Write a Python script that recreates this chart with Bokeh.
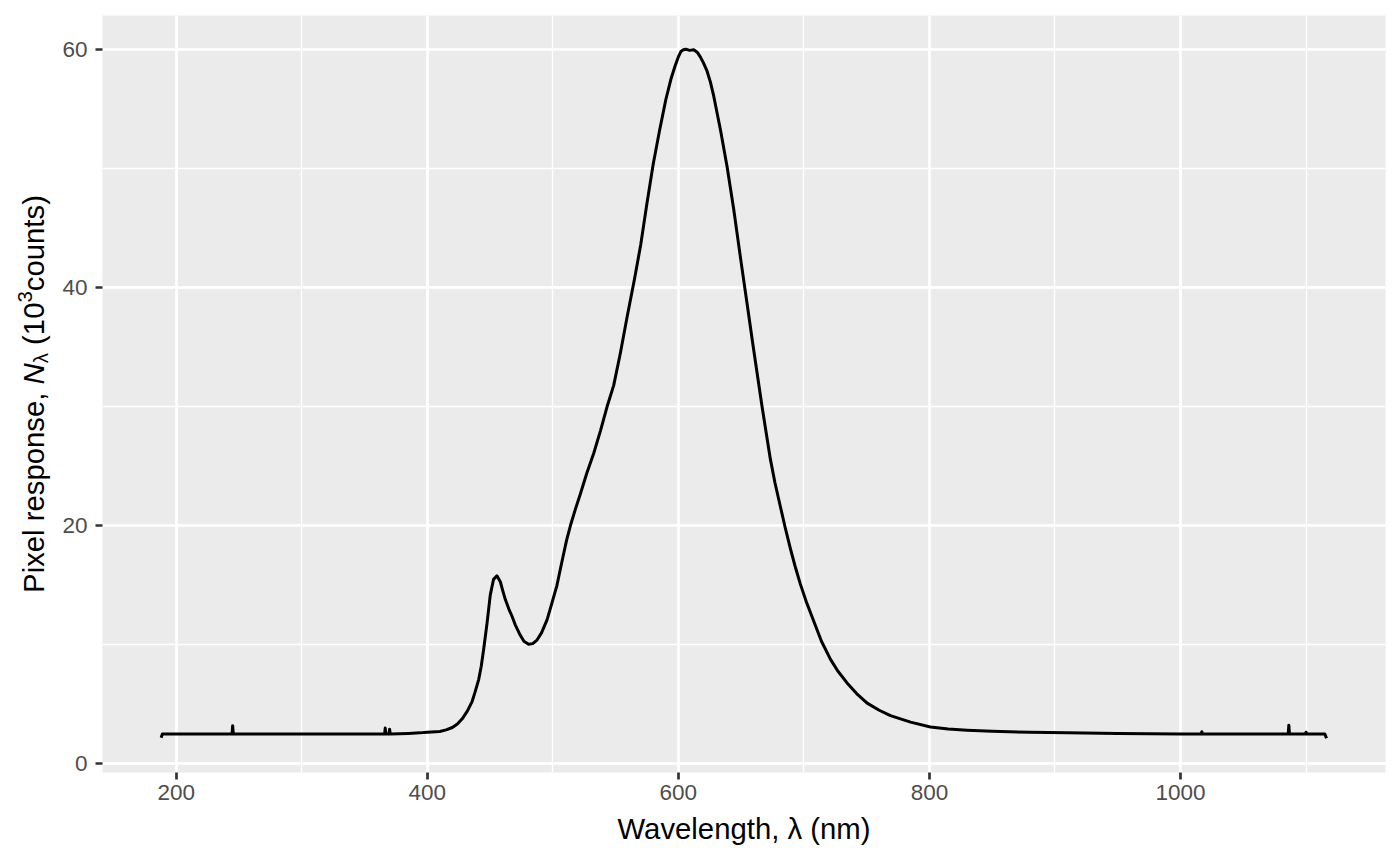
import math
from bokeh.plotting import figure
from bokeh.layouts import row
from bokeh.models import Range1d, SingleIntervalTicker
from bokeh.core.properties import value
from bokeh.embed import file_html
from bokeh.resources import INLINE

# ---- data ----
wavelength_nm = [188, 189, 195, 220, 244.5, 245, 245.5, 270, 300, 330, 360, 366, 366.5, 367,
                 369.5, 370, 370.5, 385, 394, 400, 410, 415, 420, 424, 428, 432, 435.6, 438,
                 441, 443, 444.9, 447.6, 450.2, 452.8, 455.5, 458.2, 460, 462.2, 465, 467.5,
                 470, 474.1, 477, 480.7, 484, 487.4, 491, 495.4, 499, 503.3, 507.3, 511, 514,
                 518, 522, 527, 532.6, 538, 543.2, 548.5, 553.8, 559.1, 565, 570, 575, 580,
                 585, 590, 594, 597.6, 600, 602, 604, 606, 609, 612.3, 615, 617.5,
                 620, 622.9, 625.5, 628.2, 633.5, 638.8, 644.1, 649.4, 654.7, 660, 666.7, 673.3,
                 677, 681.3, 685, 689.2, 693, 697.2, 702, 707.8, 714, 721.1, 727, 734.4, 742,
                 750.4, 760, 769, 785, 800.8, 815, 830, 850, 880, 910, 950, 1000, 1016.5, 1017,
                 1017.5, 1050, 1085.8, 1086.3, 1086.8, 1099.5, 1100, 1100.5, 1115, 1116.3]
counts_k = [2.2, 2.5, 2.5, 2.5, 2.5, 3.2, 2.5, 2.5, 2.5, 2.5, 2.5, 2.5, 3.0, 2.5,
            2.5, 2.9, 2.5, 2.55, 2.6, 2.65, 2.72, 2.85, 3.05, 3.35, 3.8, 4.45, 5.2, 6.0,
            7.1, 8.2, 9.6, 11.8, 14.2, 15.5, 15.8, 15.3, 14.6, 13.8, 13.0, 12.4,
            11.7, 10.8, 10.3, 10.05, 10.1, 10.4, 11.0, 12.1, 13.4, 15.0, 17.0, 18.8, 20.0,
            21.4, 22.7, 24.4, 26.1, 28.0, 30.0, 31.8, 34.5, 37.5, 40.7, 43.6, 47.1, 50.4,
            53.2, 55.8, 57.5, 58.7, 59.4, 59.85, 60.0, 60.05, 59.95, 60.0, 59.8, 59.4,
            58.9, 58.2, 57.3, 56.1, 53.3, 50.2, 46.6, 42.6, 38.7, 34.8, 30.0, 25.6,
            23.6, 21.6, 19.9, 18.1, 16.6, 15.1, 13.6, 12.0, 10.3, 8.8, 7.8, 6.8, 5.9,
            5.1, 4.5, 4.05, 3.5, 3.1, 2.92, 2.82, 2.73, 2.65, 2.6, 2.55, 2.5, 2.5, 2.7,
            2.5, 2.5, 2.5, 3.25, 2.5, 2.5, 2.65, 2.5, 2.5, 2.15]

x_label = "Wavelength, λ (nm)"
y_label_parts = ["Pixel response,", "N", "λ", "(10", "3", "counts)"]

# ---- layout ----
FONT = "Liberation Sans"
TITLE_PX = 29.3
TICK_PX = 22.5
X0, X1 = 141.3, 1163.3
Y0, Y1 = -0.73, 62.88
FW, FH = 1283, 757
TOP, BOTTOM = 15, 94
LW = 58                      # width of the strip that carries the y title
H = TOP + FH + BOTTOM

p = figure(frame_width=FW, frame_height=FH,
           min_border_left=102 - LW, min_border_right=15, min_border_top=TOP,
           min_border_bottom=BOTTOM,
           x_range=Range1d(X0, X1), y_range=Range1d(Y0, Y1),
           output_backend="svg", toolbar_location=None)
p.background_fill_color = "#EBEBEB"
p.border_fill_color = "white"
p.outline_line_color = None

p.xaxis.ticker = SingleIntervalTicker(interval=200, num_minor_ticks=2)
p.yaxis.ticker = SingleIntervalTicker(interval=20, num_minor_ticks=2)

for g in (p.xgrid[0], p.ygrid[0]):
    g.grid_line_color = "white"
    g.grid_line_width = 2.6
    g.minor_grid_line_color = "white"
    g.minor_grid_line_width = 1.3

for ax in (p.xaxis[0], p.yaxis[0]):
    ax.axis_line_color = None
    ax.major_tick_line_color = "#333333"
    ax.major_tick_line_width = 2.7
    ax.major_tick_out = 7
    ax.major_tick_in = 0
    ax.minor_tick_line_color = None
    ax.major_label_text_font = FONT
    ax.major_label_text_font_size = f"{TICK_PX}px"
    ax.major_label_text_color = "#4D4D4D"
    ax.axis_label_text_font = FONT
    ax.axis_label_text_font_size = f"{TITLE_PX}px"
    ax.axis_label_text_font_style = "normal"
    ax.axis_label_text_color = "black"

p.xaxis.major_label_standoff = 5
p.yaxis.major_label_standoff = 8
p.xaxis.axis_label = x_label
p.xaxis.axis_label_standoff = 9

p.line(wavelength_nm, counts_k, line_color="black", line_width=3, line_join="round")

# ---- y title strip: plotmath-like text (italic N, subscript lambda, superscript 3) ----
# its frame is aligned with the main frame, so y is measured in px from the panel bottom
t = figure(width=LW, height=H, min_border=0, x_range=Range1d(0, LW), y_range=Range1d(0, FH),
           x_axis_type=None, y_axis_type=None, output_backend="svg", toolbar_location=None)
t.background_fill_color = "white"
t.border_fill_color = "white"
t.outline_line_color = None
t.grid.visible = False

lead_em = [0, 0, 0, 0.278, 0, 0]          # space before a part
adv_em = [7.114, 0.722, 0.5, 1.445, 0.556, 3.279]
scales = [1, 1, 0.7, 1, 0.7, 1]
shifts = [0, 0, 4, 0, -12, 0]             # px, + = below baseline (to the right)
styles = ["normal", "italic", "normal", "normal", "normal", "normal"]
total = sum((l + a * s) * TITLE_PX for l, a, s in zip(lead_em, adv_em, scales))
pos = FH / 2 - total / 2
baseline_x = 45
for txt, l, a, sc, sh, st in zip(y_label_parts, lead_em, adv_em, scales, shifts, styles):
    pos += l * TITLE_PX
    t.text(x=[baseline_x + sh - 0.42 * TITLE_PX * sc], y=[pos], text=[txt], angle=math.pi / 2,
           text_font=value(FONT), text_font_size=f"{TITLE_PX * sc:.1f}px",
           text_font_style=st, text_color="black",
           text_align="left", text_baseline="alphabetic")
    pos += a * sc * TITLE_PX

open("out.html", "w").write(file_html(row(t, p), INLINE))
